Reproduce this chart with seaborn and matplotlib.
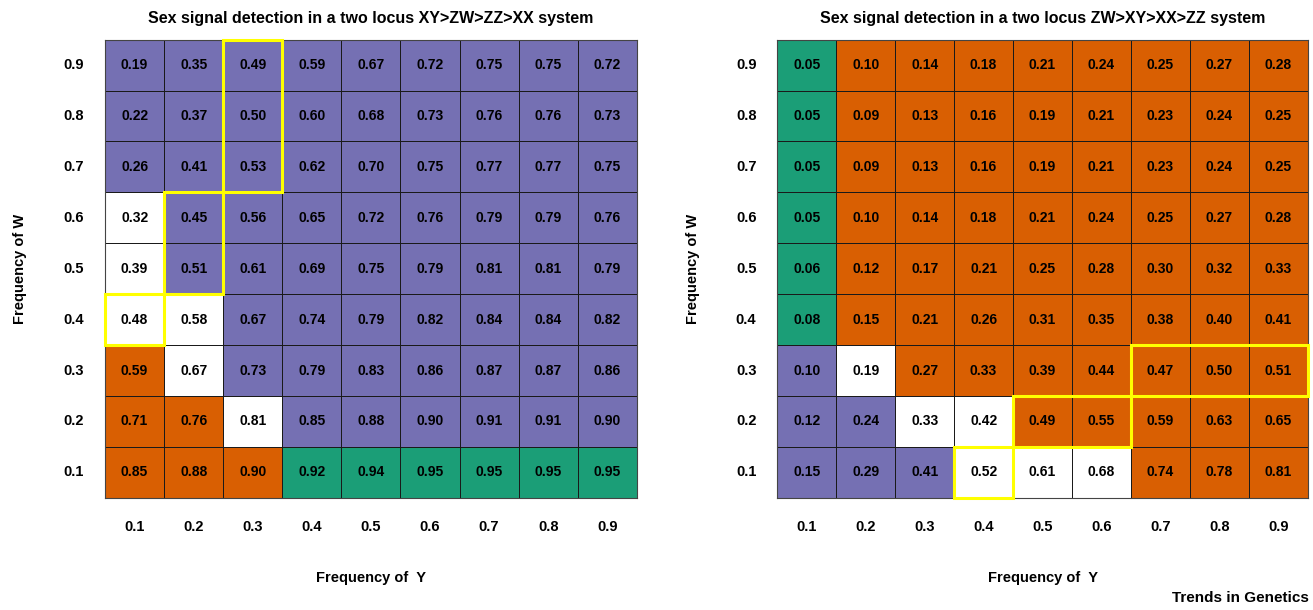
import numpy as np
import pandas as pd
import matplotlib
matplotlib.use("Agg")
import matplotlib.pyplot as plt
from matplotlib.colors import ListedColormap
from matplotlib.patches import Rectangle
import seaborn as sns

# axis categories
freq_y = ["0.1", "0.2", "0.3", "0.4", "0.5", "0.6", "0.7", "0.8", "0.9"]
freq_w = ["0.9", "0.8", "0.7", "0.6", "0.5", "0.4", "0.3", "0.2", "0.1"]  # top to bottom

# XY>ZW>ZZ>XX system (rows W=0.9 ... 0.1)
vals_left = [
    [0.19, 0.35, 0.49, 0.59, 0.67, 0.72, 0.75, 0.75, 0.72],
    [0.22, 0.37, 0.50, 0.60, 0.68, 0.73, 0.76, 0.76, 0.73],
    [0.26, 0.41, 0.53, 0.62, 0.70, 0.75, 0.77, 0.77, 0.75],
    [0.32, 0.45, 0.56, 0.65, 0.72, 0.76, 0.79, 0.79, 0.76],
    [0.39, 0.51, 0.61, 0.69, 0.75, 0.79, 0.81, 0.81, 0.79],
    [0.48, 0.58, 0.67, 0.74, 0.79, 0.82, 0.84, 0.84, 0.82],
    [0.59, 0.67, 0.73, 0.79, 0.83, 0.86, 0.87, 0.87, 0.86],
    [0.71, 0.76, 0.81, 0.85, 0.88, 0.90, 0.91, 0.91, 0.90],
    [0.85, 0.88, 0.90, 0.92, 0.94, 0.95, 0.95, 0.95, 0.95],
]
# cell class: 0 white, 1 purple, 2 orange, 3 green
cls_left = [
    [1, 1, 1, 1, 1, 1, 1, 1, 1],
    [1, 1, 1, 1, 1, 1, 1, 1, 1],
    [1, 1, 1, 1, 1, 1, 1, 1, 1],
    [0, 1, 1, 1, 1, 1, 1, 1, 1],
    [0, 1, 1, 1, 1, 1, 1, 1, 1],
    [0, 0, 1, 1, 1, 1, 1, 1, 1],
    [2, 0, 1, 1, 1, 1, 1, 1, 1],
    [2, 2, 0, 1, 1, 1, 1, 1, 1],
    [2, 2, 2, 3, 3, 3, 3, 3, 3],
]
# yellow boxes: (W rows, Y cols)
boxes_left = [
    (["0.9", "0.8", "0.7"], ["0.3"]),
    (["0.6", "0.5"], ["0.2"]),
    (["0.4"], ["0.1"]),
]

# ZW>XY>XX>ZZ system
vals_right = [
    [0.05, 0.10, 0.14, 0.18, 0.21, 0.24, 0.25, 0.27, 0.28],
    [0.05, 0.09, 0.13, 0.16, 0.19, 0.21, 0.23, 0.24, 0.25],
    [0.05, 0.09, 0.13, 0.16, 0.19, 0.21, 0.23, 0.24, 0.25],
    [0.05, 0.10, 0.14, 0.18, 0.21, 0.24, 0.25, 0.27, 0.28],
    [0.06, 0.12, 0.17, 0.21, 0.25, 0.28, 0.30, 0.32, 0.33],
    [0.08, 0.15, 0.21, 0.26, 0.31, 0.35, 0.38, 0.40, 0.41],
    [0.10, 0.19, 0.27, 0.33, 0.39, 0.44, 0.47, 0.50, 0.51],
    [0.12, 0.24, 0.33, 0.42, 0.49, 0.55, 0.59, 0.63, 0.65],
    [0.15, 0.29, 0.41, 0.52, 0.61, 0.68, 0.74, 0.78, 0.81],
]
cls_right = [
    [3, 2, 2, 2, 2, 2, 2, 2, 2],
    [3, 2, 2, 2, 2, 2, 2, 2, 2],
    [3, 2, 2, 2, 2, 2, 2, 2, 2],
    [3, 2, 2, 2, 2, 2, 2, 2, 2],
    [3, 2, 2, 2, 2, 2, 2, 2, 2],
    [3, 2, 2, 2, 2, 2, 2, 2, 2],
    [1, 0, 2, 2, 2, 2, 2, 2, 2],
    [1, 1, 0, 0, 2, 2, 2, 2, 2],
    [1, 1, 1, 0, 0, 0, 2, 2, 2],
]
boxes_right = [
    (["0.1"], ["0.4"]),
    (["0.2"], ["0.5", "0.6"]),
    (["0.3"], ["0.7", "0.8", "0.9"]),
]

titles = ["Sex signal detection in a two locus XY>ZW>ZZ>XX system",
          "Sex signal detection in a two locus ZW>XY>XX>ZZ system"]

cmap = ListedColormap(["#ffffff", "#7570b3", "#d95f02", "#1b9e77"])

sns.set_theme(style="white")
plt.rcParams["font.family"] = ["Liberation Sans", "DejaVu Sans"]

fig = plt.figure(figsize=(13.13, 6.10), dpi=100)
ax_l = fig.add_axes([0.080, 0.184, 0.405, 0.751])
ax_r = fig.add_axes([0.592, 0.184, 0.404, 0.751])

panels = [(ax_l, vals_left, cls_left, boxes_left, titles[0]),
          (ax_r, vals_right, cls_right, boxes_right, titles[1])]

for ax, vals, cls, boxes, title in panels:
    cls_df = pd.DataFrame(cls, index=freq_w, columns=freq_y)
    val_df = pd.DataFrame(vals, index=freq_w, columns=freq_y)
    sns.heatmap(cls_df, ax=ax, cmap=cmap, vmin=-0.5, vmax=3.5, cbar=False,
                annot=val_df, fmt=".2f",
                annot_kws={"color": "black", "fontsize": 10, "fontweight": "bold"},
                linewidths=0.6, linecolor="#1a1a1a")
    for t in ax.texts:
        t.set_color("black")
    for rows, cols in boxes:
        r0 = min(freq_w.index(r) for r in rows)
        c0 = min(freq_y.index(c) for c in cols)
        ax.add_patch(Rectangle((c0, r0), len(cols), len(rows), fill=False,
                               edgecolor="#ffff00", linewidth=2.2,
                               clip_on=False, zorder=5))
    ax.set_title(title, fontsize=11.5, fontweight="bold", pad=12, color="black")
    ax.set_xlabel("Frequency of  Y", fontsize=10.5, fontweight="bold",
                  labelpad=27, color="black")
    ax.set_ylabel("Frequency of W", fontsize=10.5, fontweight="bold",
                  labelpad=26, color="black")
    ax.tick_params(axis="both", length=0, labelsize=10.5, labelcolor="black")
    ax.tick_params(axis="x", pad=16)
    ax.tick_params(axis="y", pad=15)
    for lab in ax.get_xticklabels() + ax.get_yticklabels():
        lab.set_fontweight("bold")
    plt.setp(ax.get_yticklabels(), rotation=0)
    for s in ax.spines.values():
        s.set_visible(True)
        s.set_color("#444444")
        s.set_linewidth(0.8)

fig.text(0.997, 0.008, "Trends in Genetics", ha="right", va="bottom",
         fontsize=11, fontweight="bold", color="black")

fig.savefig("out.png", dpi=100, facecolor="white")
